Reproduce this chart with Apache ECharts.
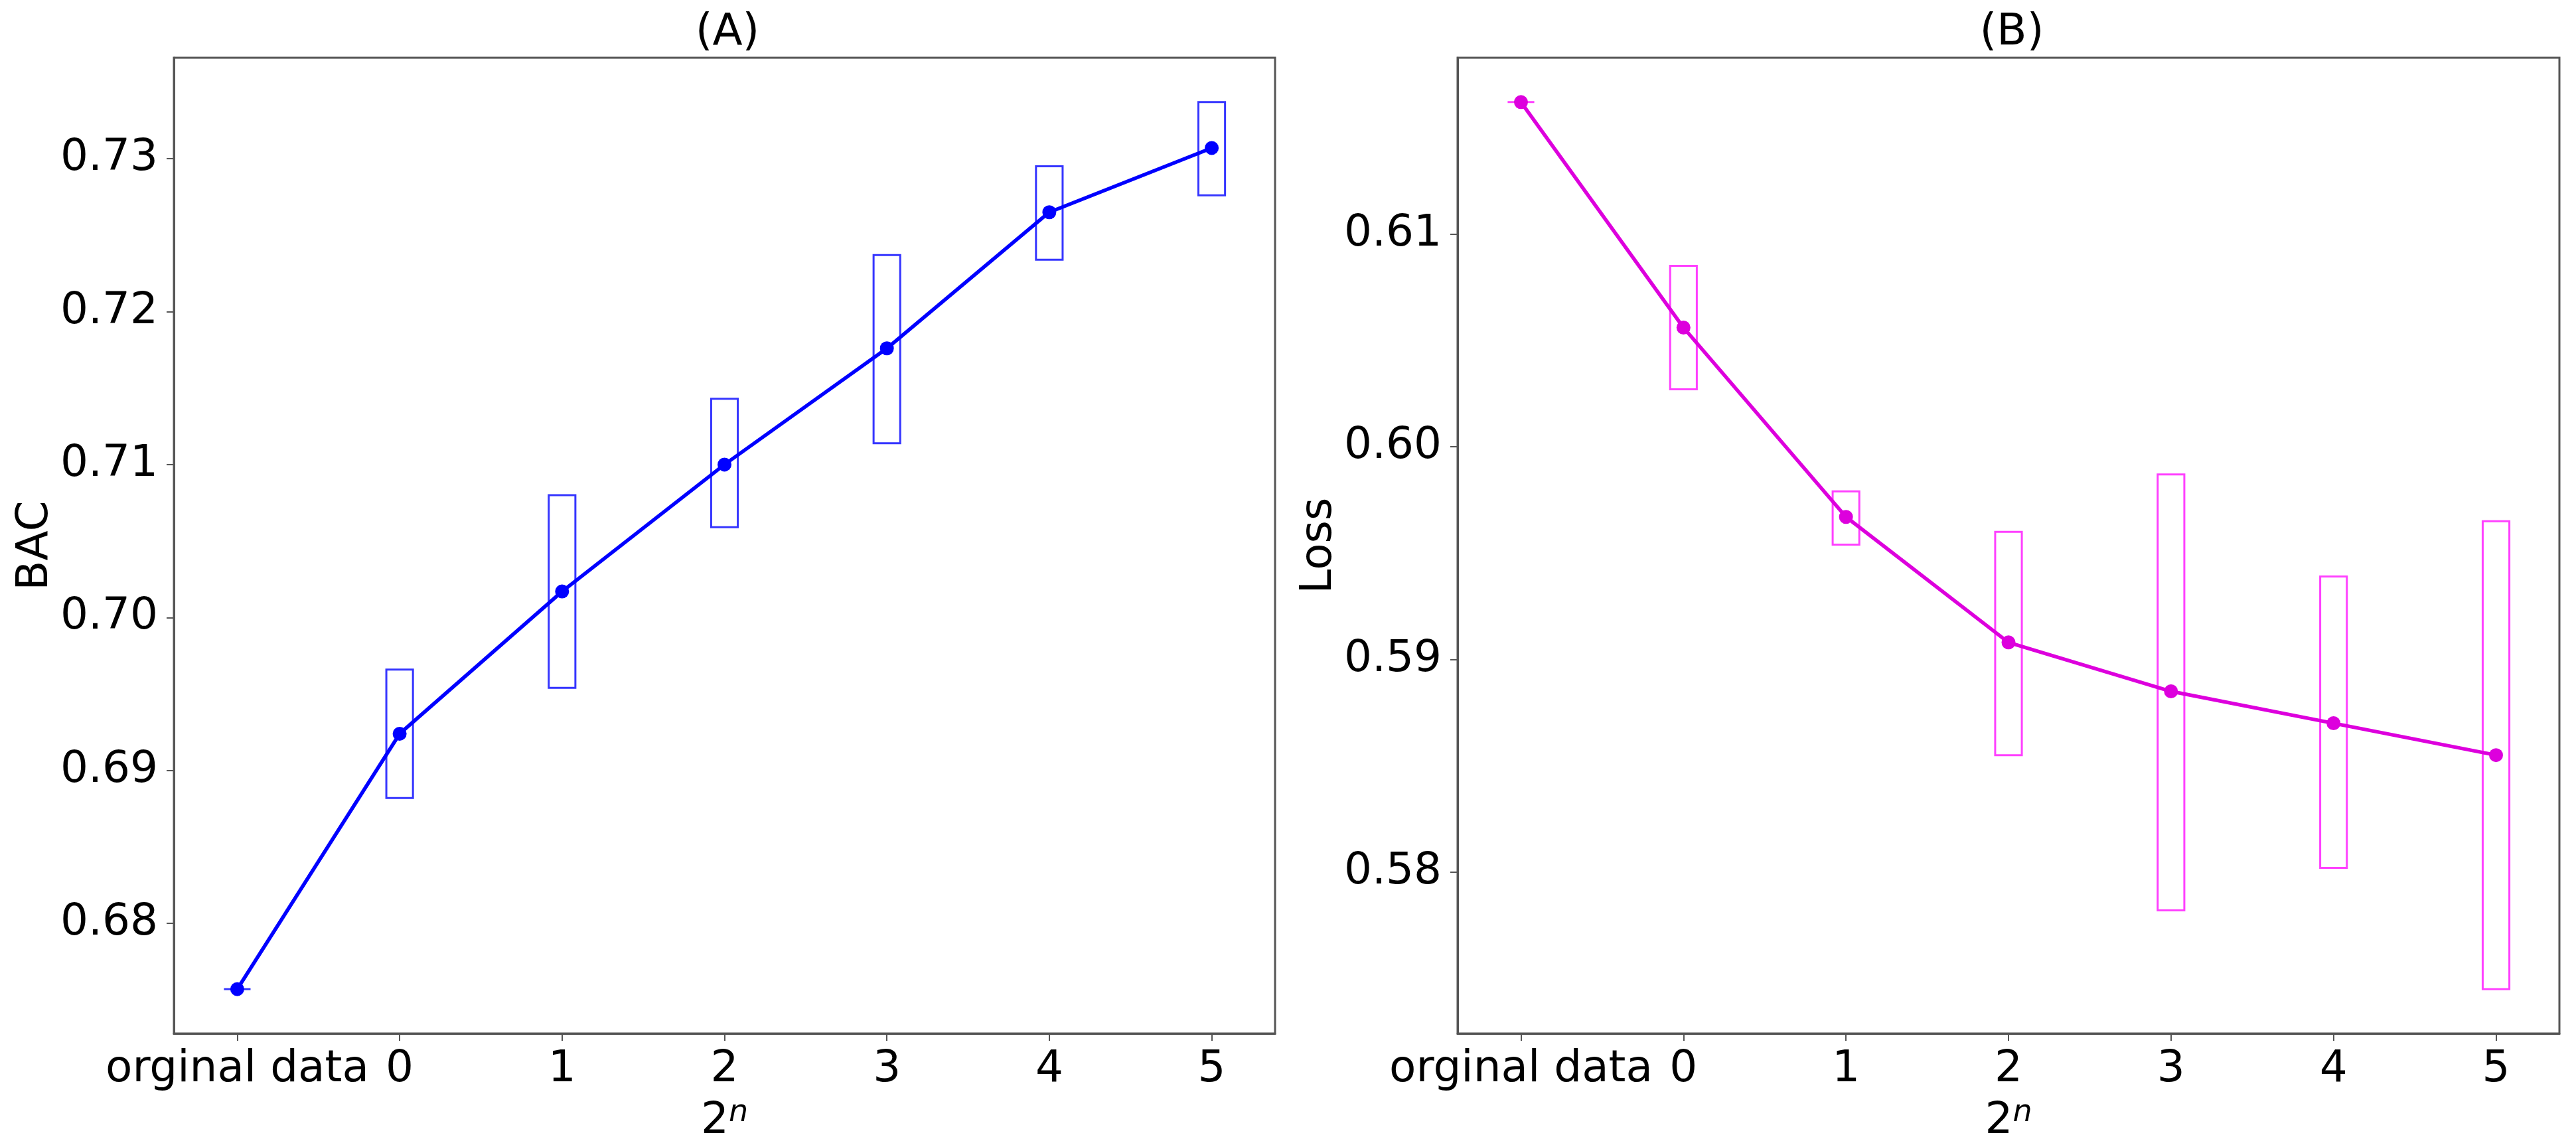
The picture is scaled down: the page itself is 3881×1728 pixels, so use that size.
<!DOCTYPE html>
<html>
<head>
<meta charset="utf-8">
<script src="https://cdn.jsdelivr.net/npm/echarts@6/dist/echarts.min.js"></script>
<style>
html,body{margin:0;padding:0;background:#fff;}
#chart{width:3881px;height:1728px;}
</style>
</head>
<body>
<div id="chart"></div>
<script>
// ---- data ----
const xLabels = ['orginal data', '0', '1', '2', '3', '4', '5'];
const xPositions = [0, 1, 2, 3, 4, 5, 6];

const bacMean = [0.6757, 0.6924, 0.7017, 0.7100, 0.7176, 0.7265, 0.7307];
const bacLow  = [0.6757, 0.6882, 0.6954, 0.7059, 0.7114, 0.7234, 0.7276];
const bacHigh = [0.6757, 0.6966, 0.7080, 0.7143, 0.7237, 0.7295, 0.7337];

const lossMean = [0.6162, 0.6056, 0.5967, 0.5908, 0.5885, 0.5870, 0.5855];
const lossLow  = [0.6162, 0.6027, 0.5954, 0.5855, 0.5782, 0.5802, 0.5745];
const lossHigh = [0.6162, 0.6085, 0.5979, 0.5960, 0.5987, 0.5939, 0.5965];

const bacTicks = [0.68, 0.69, 0.70, 0.71, 0.72, 0.73];
const lossTicks = [0.58, 0.59, 0.60, 0.61];

// ---- helpers ----
function margined(lo, hi) { const r = hi - lo; return [lo - 0.05 * r, hi + 0.05 * r]; }
const bacRange = margined(Math.min(...bacLow, ...bacMean), Math.max(...bacHigh, ...bacMean));
const lossRange = margined(Math.min(...lossLow, ...lossMean), Math.max(...lossHigh, ...lossMean));

const FONT = 'DejaVu Sans';
const FS = 66;
const HW = 0.082;

function xAxisFor(gi) {
  return {
    type: 'value', gridIndex: gi, min: -0.39, max: 6.39,
    splitLine: {show: false},
    axisLine: {show: true, onZero: false, lineStyle: {color: '#555', width: 3}},
    axisTick: {show: true, inside: false, length: 11, customValues: xPositions, lineStyle: {color: '#555', width: 2}},
    axisLabel: {
      customValues: xPositions, margin: 22, fontFamily: FONT, fontSize: FS, color: '#000',
      formatter: v => xLabels[Math.round(v)]
    },
    name: '{a|2}{b|n}', nameLocation: 'middle', nameGap: 97,
    nameTextStyle: {
      rich: {
        a: {fontFamily: FONT, fontSize: FS, color: '#000', lineHeight: 72},
        b: {fontFamily: FONT, fontSize: 46, fontStyle: 'italic', color: '#000', verticalAlign: 'top', lineHeight: 72}
      }
    }
  };
}
function yAxisFor(gi, range, ticks, name) {
  return {
    type: 'value', gridIndex: gi, min: range[0], max: range[1],
    splitLine: {show: false},
    axisLine: {show: true, onZero: false, lineStyle: {color: '#555', width: 3}},
    axisTick: {show: true, inside: false, length: 11, customValues: ticks, lineStyle: {color: '#555', width: 2}},
    axisLabel: {customValues: ticks, margin: 24, fontFamily: FONT, fontSize: FS, color: '#000',
      formatter: v => v.toFixed(2)},
    name: name, nameLocation: 'middle', nameGap: 172, nameRotate: 90,
    nameTextStyle: {fontFamily: FONT, fontSize: FS, color: '#000'}
  };
}
function boxSeries(gi, low, high, color) {
  return {
    type: 'custom', xAxisIndex: gi, yAxisIndex: gi,
    data: xPositions.map((x, i) => [x, low[i], high[i]]),
    renderItem: (params, api) => {
      const x = api.value(0), lo = api.value(1), hi = api.value(2);
      const p1 = api.coord([x - HW, hi]);
      const p2 = api.coord([x + HW, lo]);
      return {
        type: 'rect',
        shape: {x: p1[0], y: p1[1], width: p2[0] - p1[0], height: p2[1] - p1[1]},
        style: {fill: 'none', stroke: color, lineWidth: 3}
      };
    },
    z: 2, silent: true
  };
}
function lineSeries(gi, mean, color) {
  return {
    type: 'line', xAxisIndex: gi, yAxisIndex: gi,
    data: xPositions.map((x, i) => [x, mean[i]]),
    lineStyle: {color: color, width: 5.5},
    itemStyle: {color: color},
    symbol: 'circle', symbolSize: 21, showSymbol: true,
    z: 3, silent: true, animation: false
  };
}

const chart = echarts.init(document.getElementById('chart'), null, {renderer: 'canvas'});
chart.setOption({
  animation: false,
  backgroundColor: '#fff',
  title: [
    {text: '(A)', left: 1091, top: 12, textAlign: 'center', textStyle: {fontFamily: FONT, fontSize: FS, fontWeight: 'normal', color: '#000'}},
    {text: '(B)', left: 3026, top: 12, textAlign: 'center', textStyle: {fontFamily: FONT, fontSize: FS, fontWeight: 'normal', color: '#000'}}
  ],
  grid: [
    {left: 262, top: 87, width: 1659, height: 1470, show: true, borderColor: '#555', borderWidth: 3, backgroundColor: 'transparent'},
    {left: 2196, top: 87, width: 1660, height: 1470, show: true, borderColor: '#555', borderWidth: 3, backgroundColor: 'transparent'}
  ],
  xAxis: [xAxisFor(0), xAxisFor(1)],
  yAxis: [yAxisFor(0, bacRange, bacTicks, 'BAC'), yAxisFor(1, lossRange, lossTicks, 'Loss')],
  series: [
    boxSeries(0, bacLow, bacHigh, '#3535ff'),
    lineSeries(0, bacMean, '#0000ff'),
    boxSeries(1, lossLow, lossHigh, '#ff40ff'),
    lineSeries(1, lossMean, '#dd00dd')
  ]
});
</script>
</body>
</html>
